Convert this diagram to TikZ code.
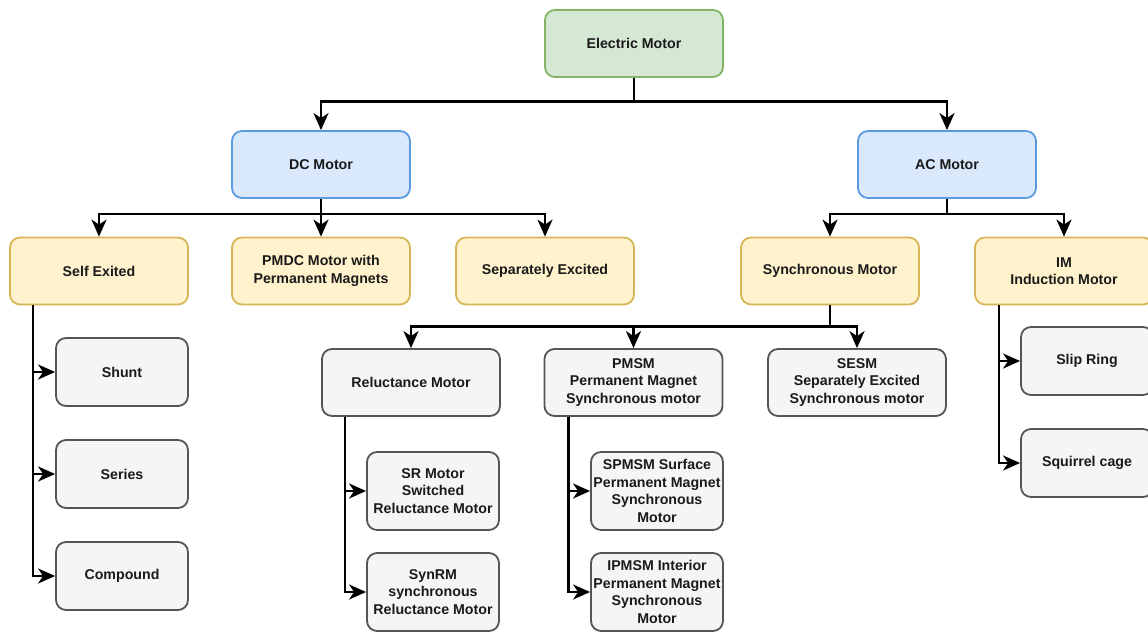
\documentclass[tikz,border=0pt]{standalone}
\usepackage{fontspec}
\setmainfont{Liberation Sans}
\usetikzlibrary{arrows.meta}
\definecolor{greenfill}{HTML}{D5E8D4}
\definecolor{greenline}{HTML}{82B366}
\definecolor{bluefill}{HTML}{DAE8FC}
\definecolor{blueline}{HTML}{5A9BE0}
\definecolor{yellowfill}{HTML}{FFF2CC}
\definecolor{yellowline}{HTML}{D6B656}
\definecolor{grayfill}{HTML}{F5F5F5}
\definecolor{grayline}{HTML}{555555}
\definecolor{txt}{HTML}{1A1A1A}
\tikzset{
  box/.style={rounded corners=10pt, line width=1.8pt, align=center, inner sep=0pt,
    text=txt, font=\fontsize{14.2}{17.5}\selectfont\bfseries},
  wide/.style={box, minimum width=178pt, minimum height=67pt},
  narrow/.style={box, minimum width=132pt, minimum height=68pt},
  tall/.style={box, minimum width=132pt, minimum height=78pt},
  rootbox/.style={wide, fill=greenfill, draw=greenline},
  kindbox/.style={wide, fill=bluefill, draw=blueline},
  typebox/.style={wide, fill=yellowfill, draw=yellowline},
  subbox/.style={fill=grayfill, draw=grayline},
  link/.style={line width=2.4pt, black,
    -{Stealth[length=17pt, width=15pt, inset=5pt]}},
}
\begin{document}
\begin{tikzpicture}[x=1pt, y=-1pt]
\useasboundingbox (0,0) rectangle (1148,632);
\clip (0,0) rectangle (1148,632);

% top level
\node[rootbox] (em) at (634,43.5) {Electric Motor};

% DC / AC
\node[kindbox] (dc) at (321,164.5) {DC Motor};
\node[kindbox] (ac) at (947,164.5) {AC Motor};

% motor types
\node[typebox] (self) at (99,271) {Self Exited};
\node[typebox] (pmdc) at (321,271) {PMDC Motor with\\Permanent Magnets};
\node[typebox] (sep) at (545,271) {Separately Excited};
\node[typebox] (sync) at (830,271) {Synchronous Motor};
\node[typebox] (im) at (1064,271) {IM\\Induction Motor};

% self excited variants
\node[narrow, subbox] (shunt) at (122,372) {Shunt};
\node[narrow, subbox] (series) at (122,474) {Series};
\node[narrow, subbox] (comp) at (122,576) {Compound};

% synchronous variants
\node[wide, subbox] (rel) at (411,382.5) {Reluctance Motor};
\node[wide, subbox] (pmsm) at (633.5,382.5) {PMSM\\Permanent Magnet\\Synchronous motor};
\node[wide, subbox] (sesm) at (857,382.5) {SESM\\Separately Excited\\Synchronous motor};

% reluctance and PMSM variants
\node[tall, subbox] (sr) at (433,491) {SR Motor\\Switched\\Reluctance Motor};
\node[tall, subbox] (synrm) at (433,592) {SynRM\\synchronous\\Reluctance Motor};
\node[tall, subbox] (spmsm) at (657,491) {SPMSM Surface\\Permanent Magnet\\Synchronous\\Motor};
\node[tall, subbox] (ipmsm) at (657,592) {IPMSM Interior\\Permanent Magnet\\Synchronous\\Motor};

% induction variants
\node[narrow, subbox] (slip) at (1087,361) {Slip Ring};
\node[narrow, subbox] (cage) at (1087,463) {Squirrel cage};

% tree connectors
\draw[link] (em.south) -- ++(0,23.5) -| (dc);
\draw[link] (em.south) -- ++(0,23.5) -| (ac);

\draw[link] (dc.south) -- ++(0,15) -| (self);
\draw[link] (dc.south) -- ++(0,15) -| (pmdc);
\draw[link] (dc.south) -- ++(0,15) -| (sep);

\draw[link] (ac.south) -- ++(0,15) -| (sync);
\draw[link] (ac.south) -- ++(0,15) -| (im);

\draw[link] (sync.south) -- ++(0,21) -| (rel);
\draw[link] (sync.south) -- ++(0,21) -| (pmsm);
\draw[link] (sync.south) -- ++(0,21) -| (sesm);

% side branches
\draw[link] ([xshift=-66pt]self.south) |- (shunt.west);
\draw[link] ([xshift=-66pt]self.south) |- (series.west);
\draw[link] ([xshift=-66pt]self.south) |- (comp.west);

\draw[link] ([xshift=-66pt]rel.south) |- (sr.west);
\draw[link] ([xshift=-66pt]rel.south) |- (synrm.west);

\draw[link] ([xshift=-65pt]pmsm.south) |- (spmsm.west);
\draw[link] ([xshift=-65pt]pmsm.south) |- (ipmsm.west);

\draw[link] ([xshift=-65pt]im.south) |- (slip.west);
\draw[link] ([xshift=-65pt]im.south) |- (cage.west);
\end{tikzpicture}
\end{document}
